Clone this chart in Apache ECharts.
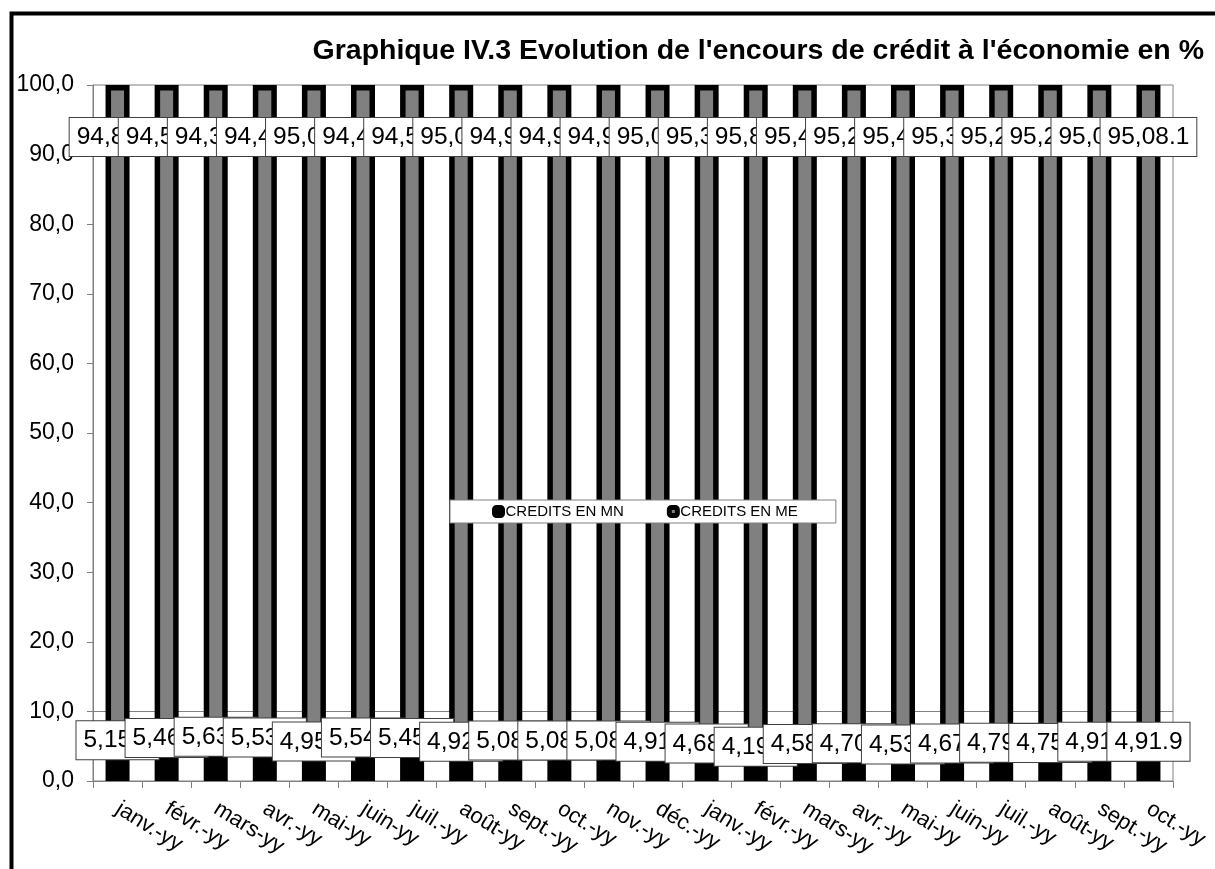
<!DOCTYPE html>
<html>
<head>
<meta charset="utf-8">
<script src="https://cdn.jsdelivr.net/npm/echarts@6/dist/echarts.min.js"></script>
<style>
html,body{margin:0;padding:0;background:#fff;}
#chart{width:1215px;height:869px;}
</style>
</head>
<body>
<div id="chart"></div>
<script>
const categories = ['janv.-yy','févr.-yy','mars-yy','avr.-yy','mai-yy','juin-yy','juil.-yy','août-yy','sept.-yy','oct.-yy','nov.-yy','déc.-yy',
                    'janv.-yy','févr.-yy','mars-yy','avr.-yy','mai-yy','juin-yy','juil.-yy','août-yy','sept.-yy','oct.-yy'];
const creditsMN = [5.153,5.463,5.634,5.534,4.955,5.544,5.455,4.925,5.085,5.084,5.083,4.914,4.683,4.193,4.583,4.704,4.535,4.673,4.794,4.754,4.914,4.919];
const creditsME = [94.847,94.537,94.366,94.466,95.045,94.456,94.545,95.075,94.915,94.916,94.917,95.086,95.317,95.807,95.417,95.296,95.465,95.327,95.206,95.246,95.086,95.081];
const yTicks = [0,10,20,30,40,50,60,70,80,90,100];
const seriesNames = ['CREDITS EN MN','CREDITS EN ME'];
const titleText = "Graphique IV.3 Evolution de l'encours de crédit à l'économie en %";

function fmtLabel(v){
  const s = v.toFixed(3).split('.');
  return s[0] + ',' + s[1].slice(0,2) + '.' + s[1].slice(2);
}
const FONT = 'Liberation Sans, Arial, sans-serif';
const labelBox = {
  show: true,
  color: '#000',
  fontFamily: FONT,
  fontSize: 24.5,
  backgroundColor: '#fff',
  borderColor: '#404040',
  borderWidth: 1,
  padding: [7, 7, 6, 7],
  formatter: p => fmtLabel(p.value)
};
const gridColors = yTicks.map(t => t === 10 ? '#808080' : 'transparent');

const chart = echarts.init(document.getElementById('chart'), null, {renderer:'canvas'});
chart.setOption({
  animation: false,
  backgroundColor: '#fff',
  title: {
    text: titleText,
    right: 6, top: 32,
    textStyle: {fontFamily: FONT, fontWeight: 'bold', fontSize: 28.5, color: '#000'}
  },
  legend: {
    data: seriesNames,
    left: 450, top: 500,
    orient: 'horizontal',
    backgroundColor: '#fff',
    borderColor: '#808080',
    borderWidth: 1,
    padding: [4, 38, 4, 42],
    itemGap: 43,
    itemWidth: 8, itemHeight: 8,
    icon: 'roundRect',
    itemStyle: {borderWidth: 5},
    textStyle: {fontFamily: FONT, fontSize: 15, color: '#000', padding: [0,0,0,-2]}
  },
  grid: {left: 93, top: 85, width: 1080, height: 696, show: true, borderColor: '#808080', borderWidth: 1, backgroundColor: 'transparent'},
  xAxis: {
    type: 'category',
    data: categories,
    axisLine: {lineStyle: {color: '#808080', width: 1}},
    axisTick: {show: true, length: 7, lineStyle: {color: '#808080'}},
    axisLabel: {rotate: -32, margin: 26, fontFamily: FONT, fontSize: 22, color: '#000', interval: 0}
  },
  yAxis: {
    type: 'value',
    min: 0, max: 100, interval: 10,
    axisLine: {show: true, lineStyle: {color: '#808080', width: 1}},
    axisTick: {show: true, length: 6, lineStyle: {color: '#808080'}},
    axisLabel: {margin: 19, fontFamily: FONT, fontSize: 23, color: '#000', formatter: v => v.toFixed(1).replace('.', ',')},
    splitLine: {show: true, lineStyle: {color: gridColors, width: 1}}
  },
  series: [
    {
      name: seriesNames[0], type: 'bar', stack: 'total', data: creditsMN,
      barWidth: 24,
      itemStyle: {color: '#000', borderColor: '#000', borderWidth: 5.5},
      label: Object.assign({}, labelBox, {position: 'top', distance: -14})
    },
    {
      name: seriesNames[1], type: 'bar', stack: 'total', data: creditsME,
      barWidth: 24,
      itemStyle: {color: '#808080', borderColor: '#000', borderWidth: 5.5},
      label: Object.assign({}, labelBox, {position: 'insideTop', distance: 33})
    }
  ],
  graphic: [{
    type: 'rect', left: 9, top: 11, silent: true, z: 100,
    shape: {x: 0, y: 0, width: 1300, height: 1000},
    style: {fill: 'none', stroke: '#000', lineWidth: 4}
  }]
});
</script>
</body>
</html>
